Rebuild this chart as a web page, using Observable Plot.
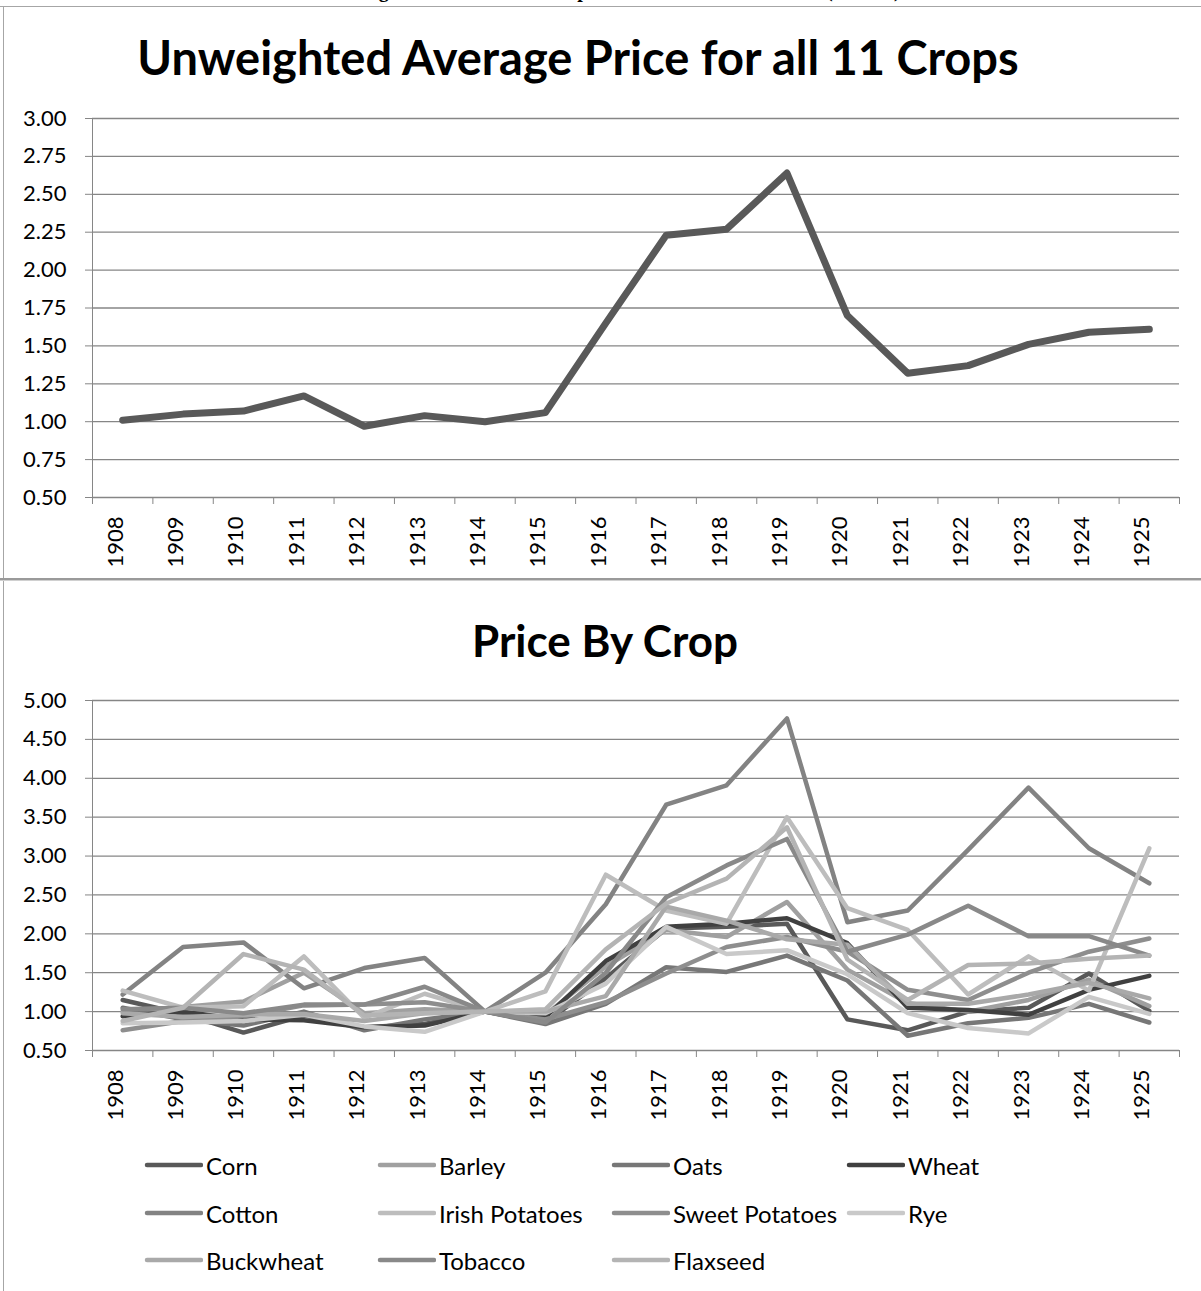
<!DOCTYPE html>
<html>
<head>
<meta charset="utf-8">
<script src="https://cdn.jsdelivr.net/npm/d3@7"></script>
<script src="https://cdn.jsdelivr.net/npm/@observablehq/plot@0.6"></script>
<style>
  body { margin: 0; background: #fff; }
  #page { position: relative; width: 1201px; height: 1291px; overflow: hidden; font-family: Lato, "Open Sans", sans-serif; background: #fff; }
  .abs { position: absolute; }
  #page svg { color: #868686; }
  #page svg text { fill: #000; }
  .title { position: absolute; font-family: Lato, sans-serif; font-weight: 700; color: #000; text-align: center; white-space: nowrap; }
  .legend-item { position: absolute; display: flex; align-items: center; height: 28px; font-family: Lato, sans-serif; font-size: 24px; color: #000; white-space: nowrap; }
  .legend-item svg { display: block; margin-right: 3px; }
</style>
</head>
<body>
<div id="page"></div>
<script>
// ---------- data ----------
const years = [1908, 1909, 1910, 1911, 1912, 1913, 1914, 1915, 1916, 1917, 1918, 1919, 1920, 1921, 1922, 1923, 1924, 1925];
const yTicksTop = [0.5, 0.75, 1, 1.25, 1.5, 1.75, 2, 2.25, 2.5, 2.75, 3];
const yTicksBottom = [0.5, 1, 1.5, 2, 2.5, 3, 3.5, 4, 4.5, 5];

const avgPrice = [1.01, 1.05, 1.07, 1.17, 0.97, 1.04, 1.00, 1.06, 1.65, 2.23, 2.27, 2.64, 1.70, 1.32, 1.37, 1.51, 1.59, 1.61];

const crops = ["Corn", "Barley", "Oats", "Wheat", "Cotton", "Irish Potatoes", "Sweet Potatoes", "Rye", "Buckwheat", "Tobacco", "Flaxseed"];
const cropColors = ["#595959", "#a0a0a0", "#777777", "#404040", "#838383", "#bdbdbd", "#8e8e8e", "#c9c9c9", "#a9a9a9", "#898989", "#b4b4b4"];

const corn      = [1.15, 0.97, 0.73, 0.95, 0.80, 0.84, 1.00, 0.86, 1.43, 2.07, 2.09, 2.13, 0.90, 0.76, 1.00, 1.05, 1.49, 1.01];
const barley    = [1.00, 1.06, 1.13, 1.50, 0.98, 1.03, 1.00, 0.96, 1.58, 2.05, 1.96, 2.41, 1.54, 1.11, 1.00, 1.15, 1.41, 1.07];
const oats      = [1.05, 0.90, 0.82, 1.00, 0.76, 0.90, 1.00, 0.84, 1.10, 1.57, 1.51, 1.72, 1.40, 0.69, 0.85, 0.92, 1.10, 0.86];
const wheat     = [0.94, 1.00, 0.90, 0.89, 0.80, 0.82, 1.00, 0.93, 1.65, 2.09, 2.13, 2.20, 1.88, 1.05, 1.02, 0.96, 1.28, 1.46];
const cotton    = [1.22, 1.83, 1.89, 1.30, 1.56, 1.69, 1.00, 1.50, 2.38, 3.66, 3.91, 4.77, 2.15, 2.30, 3.08, 3.88, 3.10, 2.65];
const irishPot  = [1.27, 1.05, 1.07, 1.71, 0.92, 1.23, 1.00, 1.26, 2.76, 2.30, 2.13, 3.50, 2.33, 2.05, 1.22, 1.71, 1.27, 3.10];
const sweetPot  = [0.76, 0.88, 0.94, 1.08, 1.09, 1.12, 1.00, 0.90, 1.12, 1.49, 1.83, 1.96, 1.77, 1.28, 1.15, 1.50, 1.77, 1.94];
const rye       = [0.85, 0.86, 0.88, 0.96, 0.81, 0.74, 1.00, 0.98, 1.36, 2.09, 1.74, 1.79, 1.48, 0.98, 0.79, 0.72, 1.19, 0.97];
const buckwheat = [0.98, 0.93, 0.96, 0.97, 0.88, 0.98, 1.00, 1.00, 1.20, 2.35, 2.17, 1.93, 1.86, 1.10, 1.10, 1.22, 1.37, 1.17];
const tobacco   = [1.03, 1.05, 0.98, 1.09, 1.09, 1.32, 1.00, 0.86, 1.50, 2.47, 2.88, 3.22, 1.77, 1.99, 2.36, 1.97, 1.97, 1.72];
const flaxseed  = [0.88, 1.05, 1.74, 1.54, 0.95, 0.98, 1.00, 1.03, 1.80, 2.39, 2.71, 3.37, 1.67, 1.15, 1.60, 1.62, 1.68, 1.72];
const cropSeries = [corn, barley, oats, wheat, cotton, irishPot, sweetPot, rye, buckwheat, tobacco, flaxseed];

// ---------- derived ----------
const boundaries = [...years.map(y => y - 0.5), years[years.length - 1] + 0.5];
const xDomain = [boundaries[0], boundaries[boundaries.length - 1]];
const avgData = years.map((yr, i) => ({year: yr, value: avgPrice[i]}));
const cropData = crops.flatMap((c, i) => years.map((yr, j) => ({crop: c, year: yr, value: cropSeries[i][j]})));

const page = document.getElementById("page");
function place(el, left, top) {
  const d = document.createElement("div");
  d.className = "abs";
  d.style.left = left + "px";
  d.style.top = top + "px";
  d.appendChild(el);
  page.appendChild(d);
  return d;
}
const plotStyle = {background: "transparent", fontFamily: "Lato, sans-serif", fontSize: "22px", overflow: "visible"};

// ---------- top chart ----------
const topPlot = Plot.plot({
  width: 1201, height: 580,
  marginLeft: 92, marginRight: 22, marginTop: 118, marginBottom: 83,
  style: plotStyle,
  x: {domain: xDomain, ticks: boundaries, tickFormat: () => "", tickSize: 7, line: true, label: null},
  y: {domain: [0.5, 3], ticks: yTicksTop, tickFormat: d => d.toFixed(2), tickSize: 7, tickPadding: 19, line: true, label: null},
  marks: [
    Plot.ruleY(yTicksTop, {stroke: "#868686", strokeWidth: 1.3}),
    Plot.text(years, {x: d => d, frameAnchor: "bottom", text: d => String(d), rotate: -90, textAnchor: "end", dy: 19, fill: "#000"}),
    Plot.line(avgData, {x: "year", y: "value", stroke: "#595959", strokeWidth: 7, strokeLinecap: "round", strokeLinejoin: "round"})
  ]
});
place(topPlot, 0, 0);

// ---------- bottom chart ----------
const bottomPlot = Plot.plot({
  width: 1201, height: 558,
  marginLeft: 92, marginRight: 22, marginTop: 118, marginBottom: 90,
  style: plotStyle,
  x: {domain: xDomain, ticks: boundaries, tickFormat: () => "", tickSize: 7, line: true, label: null},
  y: {domain: [0.5, 5], ticks: yTicksBottom, tickFormat: d => d.toFixed(2), tickSize: 7, tickPadding: 19, line: true, label: null},
  color: {domain: crops, range: cropColors},
  marks: [
    Plot.ruleY(yTicksBottom, {stroke: "#868686", strokeWidth: 1.3}),
    Plot.text(years, {x: d => d, frameAnchor: "bottom", text: d => String(d), rotate: -90, textAnchor: "end", dy: 19, fill: "#000"}),
    Plot.line(cropData, {x: "year", y: "value", z: "crop", stroke: "crop", strokeWidth: 4.5, strokeLinecap: "round", strokeLinejoin: "round"})
  ]
});
place(bottomPlot, 0, 582);

// ---------- titles ----------
function addText(cls, txt, css) {
  const d = document.createElement("div");
  d.className = cls;
  d.textContent = txt;
  Object.assign(d.style, css);
  page.appendChild(d);
  return d;
}
addText("title", "Unweighted Average Price for all 11 Crops", {left: "0px", width: "1156px", top: "34px", fontSize: "47px", lineHeight: "47px"});
addText("title", "Price By Crop", {left: "0px", width: "1210px", top: "618px", fontSize: "44px", lineHeight: "44px"});

// clipped caption at the very top (only descenders visible)
addText("abs", "Average Prices of Eleven Crops Relative to the 1914 Level (1914=1)", {
  left: "328px", top: "-20px", fontFamily: "'Liberation Serif', serif", fontWeight: "700", fontSize: "20px", lineHeight: "20px", whiteSpace: "nowrap", color: "#000"
});

// ---------- frame lines ----------
function addLine(left, top, w, h, color) {
  const d = document.createElement("div");
  d.className = "abs";
  Object.assign(d.style, {left: left + "px", top: top + "px", width: w + "px", height: h + "px", background: color});
  page.appendChild(d);
}
addLine(0, 6, 1201, 1, "#a6a6a6");
addLine(3, 6, 1, 1285, "#a6a6a6");
addLine(0, 578, 1201, 2, "#9a9a9a");
addLine(0, 580, 1201, 1, "#d0d0d0");

// ---------- legend ----------
const legendCols = [144, 377, 611, 846];
const legendRows = [1165, 1213, 1260];
crops.forEach((c, i) => {
  const item = document.createElement("div");
  item.className = "legend-item";
  item.style.left = legendCols[i % 4] + "px";
  item.style.top = (legendRows[Math.floor(i / 4)] - 14) + "px";
  const ns = "http://www.w3.org/2000/svg";
  const sw = document.createElementNS(ns, "svg");
  sw.setAttribute("width", "59");
  sw.setAttribute("height", "10");
  const ln = document.createElementNS(ns, "line");
  ln.setAttribute("x1", "3"); ln.setAttribute("x2", "57");
  ln.setAttribute("y1", "5"); ln.setAttribute("y2", "5");
  ln.setAttribute("stroke", cropColors[i]);
  ln.setAttribute("stroke-width", "4.5");
  ln.setAttribute("stroke-linecap", "round");
  sw.appendChild(ln);
  item.appendChild(sw);
  const t = document.createElement("span");
  t.textContent = c;
  item.appendChild(t);
  page.appendChild(item);
});
</script>
</body>
</html>
